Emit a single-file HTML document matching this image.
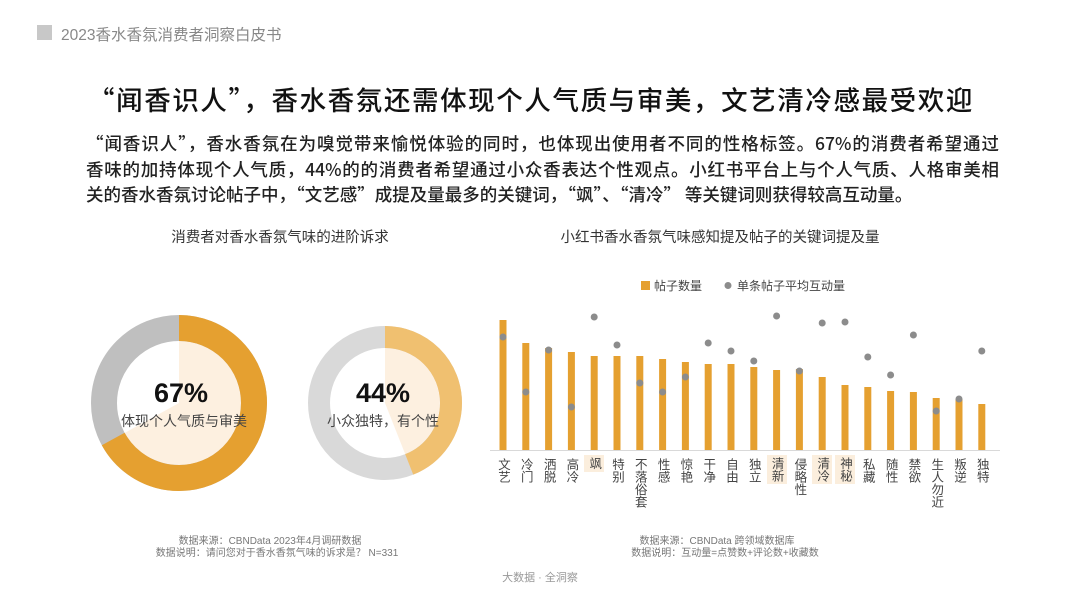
<!DOCTYPE html>
<html><head><meta charset="utf-8"><style>
body{margin:0;width:1080px;height:602px;background:#fff;position:relative;overflow:hidden;font-family:"Liberation Sans","Noto Sans CJK SC",sans-serif;}
.abs{position:absolute;}
.p div{text-align:justify;text-align-last:justify;white-space:nowrap;height:25.5px;}
.lbl{position:absolute;top:458px;writing-mode:vertical-rl;font-size:12.5px;color:#444;line-height:14px;width:14px;text-align:left;}
.hl{background:#fbeedd;}
</style></head><body>
<div class="abs" style="left:37px;top:25px;width:15px;height:15px;background:#c8c8c8"></div>
<div class="abs" style="left:61px;top:23px;font-size:15.5px;color:#888;">2023香水香氛消费者洞察白皮书</div>
<div class="abs" style="left:-9px;width:1080px;top:79px;text-align:center;font-size:26.5px;color:#111;font-weight:500;letter-spacing:1.6px;font-family:'Noto Sans CJK SC',sans-serif;">“闻香识人”，香水香氛还需体现个人气质与审美，文艺清冷感最受欢迎</div>
<div class="abs p" style="left:86px;top:131px;width:913px;font-size:17.5px;color:#222;font-weight:500;font-family:'Noto Sans CJK SC',sans-serif;">
<div>“闻香识人”，香水香氛在为嗅觉带来愉悦体验的同时，也体现出使用者不同的性格标签。67%的消费者希望通过</div>
<div>香味的加持体现个人气质，44%的的消费者希望通过小众香表达个性观点。小红书平台上与个人气质、人格审美相</div>
<div style="text-align-last:left">关的香水香氛讨论帖子中，“文艺感”成提及量最多的关键词，“飒”、“清冷” 等关键词则获得较高互动量。</div>
</div>
<div class="abs" style="left:130px;top:226px;width:300px;text-align:center;font-size:14.5px;color:#333">消费者对香水香氛气味的进阶诉求</div>
<div class="abs" style="left:520px;top:226px;width:400px;text-align:center;font-size:14.5px;color:#333">小红书香水香氛气味感知提及帖子的关键词提及量</div>
<svg class="abs" style="left:0;top:0" width="1080" height="602">
<path d="M179 403 L179 341 A62 62 0 1 1 124.7 432.9 Z" fill="#fdf0e0"/>
<circle cx="179" cy="403" r="75" fill="none" stroke="#bfbfbf" stroke-width="26"/>
<circle cx="179" cy="403" r="75" fill="none" stroke="#e5a030" stroke-width="26" stroke-dasharray="315.7 500" transform="rotate(-90 179 403)"/>
<path d="M385 403 L385 348 A55 55 0 0 1 405.2 454.1 Z" fill="#fdf0e0"/>
<circle cx="385" cy="403" r="66" fill="none" stroke="#d9d9d9" stroke-width="22"/>
<circle cx="385" cy="403" r="66" fill="none" stroke="#f0c070" stroke-width="22" stroke-dasharray="182.5 500" transform="rotate(-90 385 403)"/>
<text x="181" y="402" text-anchor="middle" font-size="27" font-weight="bold" fill="#111">67%</text>
<text x="184" y="426" text-anchor="middle" font-size="14" fill="#444">体现个人气质与审美</text>
<text x="383" y="402" text-anchor="middle" font-size="27" font-weight="bold" fill="#111">44%</text>
<text x="383" y="426" text-anchor="middle" font-size="14" fill="#444">小众独特，有个性</text>
<text x="270" y="544" text-anchor="middle" font-size="10" fill="#777">数据来源：CBNData 2023年4月调研数据</text>
<text x="277" y="556" text-anchor="middle" font-size="10" fill="#777">数据说明：请问您对于香水香氛气味的诉求是？ N=331</text>
<text x="717" y="544" text-anchor="middle" font-size="10" fill="#777">数据来源：CBNData 跨领域数据库</text>
<text x="725" y="556" text-anchor="middle" font-size="10" fill="#777">数据说明：互动量=点赞数+评论数+收藏数</text>
<text x="540" y="581" text-anchor="middle" font-size="11" fill="#999">大数据 · 全洞察</text>
<rect x="641" y="281" width="9" height="9" fill="#e5a030"/>
<text x="654" y="290" font-size="12" fill="#444">帖子数量</text>
<circle cx="728" cy="285.5" r="3.5" fill="#8c8c8c"/>
<text x="737" y="290" font-size="12" fill="#444">单条帖子平均互动量</text>
<line x1="490" y1="450.5" x2="1000" y2="450.5" stroke="#d9d9d9" stroke-width="1"/>
<g id="bars" fill="#e5a030"></g>
<g id="dots" fill="#8c8c8c"></g>
</svg>
<div id="labels"></div>
<script>
var tops=[320,343,348,352,356,356,356,359,362,364,364,367,370,369,377,385,387,391,392,398,399,404];
var dots=[337,392,350,407,317,345,383,392,377,343,351,361,316,371,323,322,357,375,335,411,399,351];
var names=["文艺","冷门","洒脱","高冷","飒","特别","不落俗套","性感","惊艳","干净","自由","独立","清新","侵略性","清冷","神秘","私藏","随性","禁欲","生人勿近","叛逆","独特"];
var hl=[4,12,14,15];
var b="",d="",l="";
for(var i=0;i<22;i++){var x=503+i*22.8;
b+='<rect x="'+(x-3.5)+'" y="'+tops[i]+'" width="7" height="'+(450-tops[i])+'"/>';
d+='<circle cx="'+x+'" cy="'+dots[i]+'" r="3.5"/>';
var h=hl.indexOf(i)>=0;
l+='<div class="lbl'+(h?' hl':'')+'" style="left:'+(x-7)+'px;'+(h?'padding:2px 3px;margin-left:-3px;top:455px;':'')+'">'+names[i]+'</div>';}
document.getElementById('bars').innerHTML=b;
document.getElementById('dots').innerHTML=d;
document.getElementById('labels').innerHTML=l;
</script>
</body></html>
